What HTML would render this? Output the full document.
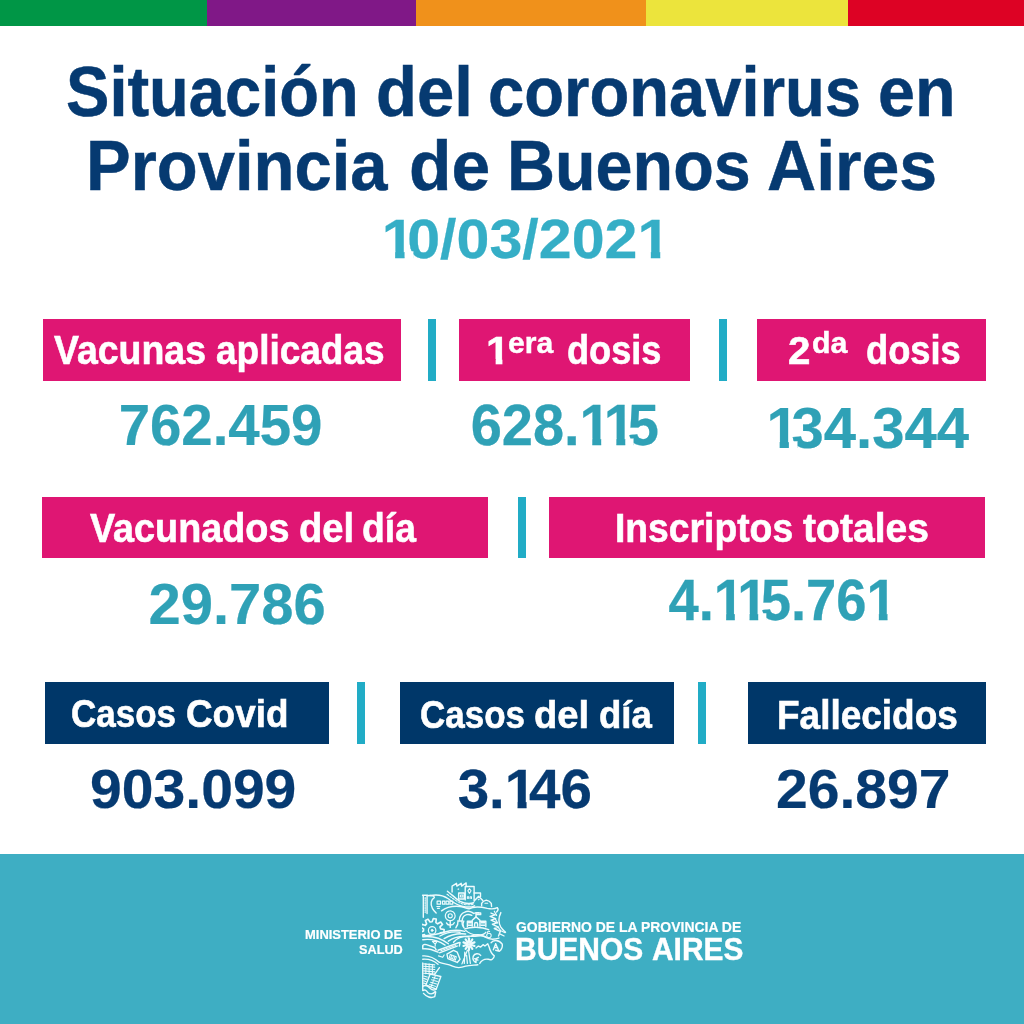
<!DOCTYPE html>
<html lang="es">
<head>
<meta charset="utf-8">
<title>Situación del coronavirus en Provincia de Buenos Aires</title>
<style>
html,body{margin:0;padding:0;background:#fff}
#c{position:relative;width:1024px;height:1024px;overflow:hidden;background:#fff;font-family:"Liberation Sans",sans-serif}
h1,h2,p,header,footer,section,main{margin:0;padding:0;font-size:inherit;font-weight:inherit}
.b{position:absolute;display:block}
.t{position:absolute;white-space:nowrap;line-height:1;font-weight:bold;transform-origin:0 0}
.g1{display:inline-block;font-style:normal;margin-right:-0.126em;clip-path:polygon(0 0,.385em 0,.385em 1em,.226em 1em,.226em .7em,0 .7em)}
</style>
</head>
<body>
<main id="c">
<header><i class="b" style="left:0px;top:0px;width:207.2px;height:25.8px;background:#009646"></i><i class="b" style="left:207.2px;top:0px;width:208.8px;height:25.8px;background:#801887"></i><i class="b" style="left:416px;top:0px;width:229.5px;height:25.8px;background:#F0911B"></i><i class="b" style="left:645.5px;top:0px;width:202.0px;height:25.8px;background:#ECE43C"></i><i class="b" style="left:847.5px;top:0px;width:176.5px;height:25.8px;background:#DD0224"></i></header>
<h1><span class="t" style="left:66.02px;top:57.35px;font-size:70.4px;color:#063A71;-webkit-text-stroke:0.5px #063A71;transform:scaleX(0.9241)">Situación</span> <span class="t" style="left:375.63px;top:57.35px;font-size:70.4px;color:#063A71;-webkit-text-stroke:0.5px #063A71;transform:scaleX(0.9526)">del</span> <span class="t" style="left:488.37px;top:57.35px;font-size:70.4px;color:#063A71;-webkit-text-stroke:0.5px #063A71;transform:scaleX(0.926)">coronavirus</span> <span class="t" style="left:877.73px;top:57.35px;font-size:70.4px;color:#063A71;-webkit-text-stroke:0.5px #063A71;transform:scaleX(0.9443)">en</span> <span class="t" style="left:85.61px;top:131.25px;font-size:70.4px;color:#063A71;-webkit-text-stroke:0.5px #063A71;transform:scaleX(0.9515)">Provincia</span> <span class="t" style="left:408.68px;top:131.25px;font-size:70.4px;color:#063A71;-webkit-text-stroke:0.5px #063A71;transform:scaleX(0.9893)">de</span> <span class="t" style="left:507.14px;top:131.25px;font-size:70.4px;color:#063A71;-webkit-text-stroke:0.5px #063A71;transform:scaleX(0.9443)">Buenos</span> <span class="t" style="left:766.93px;top:131.25px;font-size:70.4px;color:#063A71;-webkit-text-stroke:0.5px #063A71;transform:scaleX(0.9667)">Aires</span></h1>
<p><svg class="b" style="left:373px;top:207px;overflow:visible" width="300" height="69" viewBox="373 207 300 69"><clipPath id="k1"><path clip-rule="evenodd" d="M-20 -61.6H306.1V22.4H-20ZM1.12 -6.38H12.66V1.68H1.12ZM21.56 -6.38H29.96V1.68H21.56ZM243.18 -6.38H254.72V1.68H243.18ZM263.62 -6.38H273.42V1.68H263.62Z"/></clipPath><text transform="translate(381.78 257.75) scale(1.0563 1)" x="0.00 24.08 55.22 70.78 101.93 133.07 148.63 179.78 210.92 242.06" y="0" clip-path="url(#k1)" font-family="Liberation Sans, sans-serif" font-weight="bold" font-size="56.0" fill="#35AEC6" stroke="#35AEC6" stroke-width="0.25">10/03/2021</text></svg></p>
<section><i class="b" style="left:43.25px;top:319.3px;width:357.75px;height:61.3px;background:#DF1673"></i><h2><span class="t" style="left:54.12px;top:330.35px;font-size:40.1px;color:#fff;-webkit-text-stroke:0.6px #fff;transform:scaleX(0.9348)">Vacunas</span> <span class="t" style="left:216.05px;top:330.35px;font-size:40.1px;color:#fff;-webkit-text-stroke:0.6px #fff;transform:scaleX(0.9229)">aplicadas</span></h2><p><svg class="b" style="left:108px;top:393px;overflow:visible" width="225" height="69" viewBox="108 393 225 69"><text transform="translate(118.63 444.90) scale(0.9875 1)" x="0.00 31.76 63.51 95.27 111.13 142.89 174.65" y="0" font-family="Liberation Sans, sans-serif" font-weight="bold" font-size="57.1" fill="#2FA1B6" stroke="#2FA1B6" stroke-width="0.25">762.459</text></svg></p></section>
<i class="b" style="left:428.1px;top:319.3px;width:7.9px;height:61.3px;background:#21ACC6"></i>
<section><i class="b" style="left:459px;top:319.3px;width:231px;height:61.3px;background:#DF1673"></i><h2><span class="t g1" style="left:486.03px;top:331.25px;font-size:39.6px;color:#fff;-webkit-text-stroke:0.6px #fff;transform:scaleX(1.0776)">1</span> <span class="t" style="left:508.02px;top:329.25px;font-size:29.0px;color:#fff;-webkit-text-stroke:0.45px #fff;transform:scaleX(1.0385)">era</span> <span class="t" style="left:567.33px;top:330.35px;font-size:40.1px;color:#fff;-webkit-text-stroke:0.6px #fff;transform:scaleX(0.9017)">dosis</span></h2><p><svg class="b" style="left:460px;top:393px;overflow:visible" width="210" height="69" viewBox="460 393 210 69"><clipPath id="k3"><path clip-rule="evenodd" d="M-20 -62.8H232.0V22.8H-20ZM112.28 -6.51H124.04V1.71H112.28ZM133.12 -6.51H148.59V1.71H133.12ZM157.67 -6.51H166.23V1.71H157.67Z"/></clipPath><text transform="translate(470.64 444.90) scale(0.9807 1)" x="0.00 31.76 63.51 95.27 111.13 135.69 160.24" y="0" clip-path="url(#k3)" font-family="Liberation Sans, sans-serif" font-weight="bold" font-size="57.1" fill="#2FA1B6" stroke="#2FA1B6" stroke-width="0.25">628.115</text></svg></p></section>
<i class="b" style="left:719.4px;top:319.3px;width:8.1px;height:61.3px;background:#21ACC6"></i>
<section><i class="b" style="left:756.5px;top:319.3px;width:229.75px;height:61.3px;background:#DF1673"></i><h2><span class="t" style="left:787.85px;top:331.25px;font-size:39.6px;color:#fff;-webkit-text-stroke:0.6px #fff;transform:scaleX(1.0184)">2</span> <span class="t" style="left:811.56px;top:328.85px;font-size:28.9px;color:#fff;-webkit-text-stroke:0.45px #fff;transform:scaleX(1.0502)">da</span> <span class="t" style="left:866.32px;top:330.35px;font-size:40.1px;color:#fff;-webkit-text-stroke:0.6px #fff;transform:scaleX(0.9056)">dosis</span></h2><p><svg class="b" style="left:758px;top:396px;overflow:visible" width="224" height="70" viewBox="758 396 224 70"><clipPath id="k4"><path clip-rule="evenodd" d="M-20 -63.1H240.2V23.0H-20ZM1.15 -6.54H12.97V1.72H1.15ZM22.10 -6.54H30.71V1.72H22.10Z"/></clipPath><text transform="translate(766.52 447.75) scale(1.0116 1)" x="0.00 24.68 56.61 88.53 104.48 136.40 168.32" y="0" clip-path="url(#k4)" font-family="Liberation Sans, sans-serif" font-weight="bold" font-size="57.4" fill="#2FA1B6" stroke="#2FA1B6" stroke-width="0.25">134.344</text></svg></p></section>
<section><i class="b" style="left:42.25px;top:496.8px;width:445.5px;height:61.2px;background:#DF1673"></i><h2><span class="t" style="left:90.02px;top:507.65px;font-size:40.0px;color:#fff;-webkit-text-stroke:0.6px #fff;transform:scaleX(0.9441)">Vacunados</span> <span class="t" style="left:298.52px;top:507.65px;font-size:40.0px;color:#fff;-webkit-text-stroke:0.6px #fff;transform:scaleX(0.9531)">del</span> <span class="t" style="left:361.89px;top:507.65px;font-size:40.0px;color:#fff;-webkit-text-stroke:0.6px #fff;transform:scaleX(0.9325)">día</span></h2><p><svg class="b" style="left:138px;top:572px;overflow:visible" width="199" height="69" viewBox="138 572 199 69"><text transform="translate(148.43 624.05) scale(1.0150 1)" x="0.00 31.76 63.51 79.38 111.13 142.89" y="0" font-family="Liberation Sans, sans-serif" font-weight="bold" font-size="57.1" fill="#2FA1B6" stroke="#2FA1B6" stroke-width="0.25">29.786</text></svg></p></section>
<i class="b" style="left:518.1px;top:496.8px;width:8.15px;height:61.5px;background:#21ACC6"></i>
<section><i class="b" style="left:549.2px;top:496.8px;width:436.05px;height:61.2px;background:#DF1673"></i><h2><span class="t" style="left:615.38px;top:507.65px;font-size:40.0px;color:#fff;-webkit-text-stroke:0.6px #fff;transform:scaleX(0.9318)">Inscriptos</span> <span class="t" style="left:803.32px;top:507.65px;font-size:40.0px;color:#fff;-webkit-text-stroke:0.6px #fff;transform:scaleX(0.977)">totales</span></h2><p><svg class="b" style="left:657px;top:568px;overflow:visible" width="244" height="69" viewBox="657 568 244 69"><clipPath id="k6"><path clip-rule="evenodd" d="M-20 -62.5H271.2V22.7H-20ZM48.51 -6.48H60.21V1.70H48.51ZM69.24 -6.48H84.63V1.70H69.24ZM93.66 -6.48H102.18V1.70H93.66ZM207.90 -6.48H219.60V1.70H207.90ZM228.64 -6.48H238.58V1.70H228.64Z"/></clipPath><text transform="translate(668.49 619.65) scale(0.9579 1)" x="0.00 31.59 47.37 71.79 96.22 127.81 143.59 175.18 206.77" y="0" clip-path="url(#k6)" font-family="Liberation Sans, sans-serif" font-weight="bold" font-size="56.8" fill="#2FA1B6" stroke="#2FA1B6" stroke-width="0.25">4.115.761</text></svg></p></section>
<section><i class="b" style="left:44.75px;top:682.25px;width:283.75px;height:61.25px;background:#003769"></i><h2><span class="t" style="left:71.12px;top:694.25px;font-size:39.6px;color:#fff;-webkit-text-stroke:0.6px #fff;transform:scaleX(0.8845)">Casos</span> <span class="t" style="left:185.71px;top:694.25px;font-size:39.6px;color:#fff;-webkit-text-stroke:0.6px #fff;transform:scaleX(0.9314)">Covid</span></h2><p><svg class="b" style="left:80px;top:757px;overflow:visible" width="228" height="69" viewBox="80 757 228 69"><text transform="translate(90.12 808.45) scale(1.0134 1)" x="0.00 31.31 62.62 93.93 109.58 140.89 172.20" y="0" font-family="Liberation Sans, sans-serif" font-weight="bold" font-size="56.3" fill="#063A71" stroke="#063A71" stroke-width="0.25">903.099</text></svg></p></section>
<i class="b" style="left:356.9px;top:682.25px;width:8.1px;height:61.25px;background:#21ACC6"></i>
<section><i class="b" style="left:400.25px;top:682.25px;width:273.25px;height:61.25px;background:#003769"></i><h2><span class="t" style="left:420.12px;top:694.55px;font-size:39.6px;color:#fff;-webkit-text-stroke:0.6px #fff;transform:scaleX(0.8845)">Casos</span> <span class="t" style="left:534.37px;top:694.55px;font-size:39.6px;color:#fff;-webkit-text-stroke:0.6px #fff;transform:scaleX(0.9652)">del</span> <span class="t" style="left:598.83px;top:694.55px;font-size:39.6px;color:#fff;-webkit-text-stroke:0.6px #fff;transform:scaleX(0.9244)">día</span></h2><p><svg class="b" style="left:447px;top:757px;overflow:visible" width="157" height="69" viewBox="447 757 157 69"><clipPath id="k8"><path clip-rule="evenodd" d="M-20 -61.9H173.8V22.5H-20ZM48.08 -6.42H59.68V1.69H48.08ZM68.63 -6.42H78.48V1.69H68.63Z"/></clipPath><text transform="translate(457.64 808.45) scale(1.0042 1)" x="0.00 31.31 46.95 71.16 102.47" y="0" clip-path="url(#k8)" font-family="Liberation Sans, sans-serif" font-weight="bold" font-size="56.3" fill="#063A71" stroke="#063A71" stroke-width="0.25">3.146</text></svg></p></section>
<i class="b" style="left:698.1px;top:682.25px;width:8.15px;height:61.25px;background:#21ACC6"></i>
<section><i class="b" style="left:747.5px;top:682.25px;width:238.75px;height:61.25px;background:#003769"></i><h2><span class="t" style="left:776.64px;top:695.85px;font-size:39.9px;color:#fff;-webkit-text-stroke:0.6px #fff;transform:scaleX(0.9269)">Fallecidos</span></h2><p><svg class="b" style="left:765px;top:757px;overflow:visible" width="196" height="69" viewBox="765 757 196 69"><text transform="translate(775.94 808.45) scale(1.0134 1)" x="0.00 31.31 62.62 78.26 109.58 140.89" y="0" font-family="Liberation Sans, sans-serif" font-weight="bold" font-size="56.3" fill="#063A71" stroke="#063A71" stroke-width="0.25">26.897</text></svg></p></section>
<footer><i class="b" style="left:0px;top:854.2px;width:1024px;height:169.8px;background:#3EAEC3"></i>
<p><span class="t" style="left:305.31px;top:928.8px;font-size:12.9px;color:#fff;-webkit-text-stroke:0.2px #fff;transform:scaleX(1.0043)">MINISTERIO DE</span> <span class="t" style="left:358.56px;top:942.9px;font-size:13.0px;color:#fff;-webkit-text-stroke:0.2px #fff;transform:scaleX(0.9776)">SALUD</span></p>
<svg class="b" style="left:416px;top:876px" width="96" height="128" viewBox="0 0 1024 1365.3" stroke="#eefbfd" stroke-linecap="round" stroke-linejoin="round" fill="none"><defs><clipPath id="gc"><rect x="64" y="400" width="400" height="300"/></clipPath></defs><path d="M70 205 L125 205 M78 205 L78 440 M118 205 L118 400" stroke-width="14.9" fill="none"/><path d="M98 230 L98 390" stroke-width="12.2" fill="none" stroke-dasharray="14 12"/><path d="M125 210 C170 205 200 215 195 230 C160 250 150 300 175 345 C185 365 200 380 215 395" stroke-width="14.9" fill="none"/><path d="M335 162 C380 195 420 240 470 270 C520 295 570 300 615 285" stroke-width="14.9" fill="none"/><path d="M150 208 C220 195 290 205 340 240 C390 275 430 310 500 325 C550 335 600 330 625 318" stroke-width="14.9" fill="none"/><path d="M330 195 C390 235 430 275 500 300 C540 310 580 310 610 302" stroke-width="10.8" fill="none" stroke-dasharray="22 14"/><path d="M385 170 L385 108 L432 78 L436 108 L482 78 L486 108 L535 74 L535 112" stroke-width="14.9" fill="none"/><path d="M525 255 L525 112 L620 112 L620 270" stroke-width="14.9" fill="none"/><path d="M455 245 L455 182 L515 182 L515 245 Z" stroke-width="14.9" fill="none"/><path d="M475 202 L500 202 L500 225 L475 225 Z" stroke-width="10.8" fill="none"/><path d="M570 135 L588 158 L570 185 L552 158 Z" stroke-width="10.8" fill="none"/><path d="M548 240 L548 222 L562 222 L562 240 M578 240 L578 222 L592 222 L592 240" stroke-width="10.8" fill="none"/><path d="M620 182 L688 182 L688 220" stroke-width="14.9" fill="none"/><path d="M625 262 L668 215 L712 262" stroke-width="14.9" fill="none"/><circle cx="668" cy="252" r="5" stroke-width="6" fill="#fff"/><circle cx="450" cy="140" r="5" stroke-width="6" fill="#fff"/><path d="M700 318 L700 292 C715 268 735 262 750 258 C770 262 790 272 803 292 L806 325" stroke-width="14.9" fill="none"/><path d="M735 290 L765 290" stroke-width="10.8" fill="none"/><path d="M225 300 L225 268 L262 268 L262 300 Z" stroke-width="12.2" fill="none"/><path d="M282 300 L282 268 L308 268 L308 300 Z" stroke-width="12.2" fill="none"/><path d="M320 300 L320 268 L350 268 L350 300 Z" stroke-width="12.2" fill="none"/><path d="M362 300 L362 268 L392 268 L392 300 Z" stroke-width="12.2" fill="none"/><path d="M222 325 L255 325 M228 345 L250 345" stroke-width="12.2" fill="none"/><path d="M272 372 C320 335 400 318 470 325 C520 332 545 350 565 350 C610 325 690 328 760 345 C810 355 845 350 868 338" stroke-width="14.9" fill="none"/><path d="M868 338 C880 350 872 372 860 385" stroke-width="14.9" fill="none"/><path d="M905 390 C880 440 880 500 905 545 C920 570 940 585 955 600" stroke-width="14.9" fill="none"/><path d="M800 395 L845 415 L790 430 L850 455 L800 470 L865 500 L815 515 L880 545 L835 560 L900 590 L880 640" stroke-width="14.9" fill="none"/><path d="M835 375 L860 420 M845 455 L870 500 M875 545 L905 585 M905 585 L950 605 M900 620 L940 640" stroke-width="12.2" fill="none"/><circle cx="365" cy="425" r="52" stroke-width="13" fill="none" stroke-dasharray="9 7"/><circle cx="365" cy="425" r="22" stroke-width="12" fill="none"/><path d="M365 480 L365 548 M325 500 C335 520 350 525 365 522 C385 525 400 515 408 498" stroke-width="14.9" fill="none"/><path d="M445 480 L492 480 M448 480 C450 510 440 535 425 552 M490 480 C488 510 498 535 512 552" stroke-width="14.9" fill="none"/><path d="M462 470 C465 430 480 400 520 385 C560 365 600 385 615 400 C630 392 650 388 668 392" stroke-width="14.9" fill="none"/><path d="M492 478 C495 440 510 420 540 412 C560 408 580 412 595 420" stroke-width="14.9" fill="none"/><path d="M505 540 C500 515 502 495 510 480" stroke-width="14.9" fill="none"/><path d="M600 535 L600 472 L640 436 L682 472 L682 535" stroke-width="14.9" fill="none"/><path d="M640 436 L640 395 L690 395 L690 412 L640 412" stroke-width="14.9" fill="none"/><path d="M625 535 L625 512 C625 490 657 490 657 512 L657 535" stroke-width="14.9" fill="none"/><path d="M600 482 L548 482 L548 542 M682 482 L745 482 L745 542" stroke-width="14.9" fill="none"/><path d="M558 497 L592 497 M558 512 L592 512 M558 527 L592 527 M692 497 L735 497 M692 512 L735 512 M692 527 L735 527" stroke-width="10.8" fill="none"/><path d="M520 565 C580 540 700 540 775 572" stroke-width="14.9" fill="none"/><path d="M530 580 C560 610 600 625 650 630 C700 632 730 625 745 600" stroke-width="14.9" fill="none"/><circle cx="778" cy="635" r="24" stroke-width="11" fill="none"/><path d="M760 605 C765 590 775 585 785 592" stroke-width="12.2" fill="none"/><path clip-path="url(#gc)" d="M92 626 L55 632 L46 602 L80 586 L81 564 L49 545 L61 516 L98 526 L113 510 L100 474 L128 460 L150 491 L172 488 L185 453 L216 460 L212 497 L231 510 L264 491 L283 516 L256 543 L263 564 L300 571 L298 602 L260 605" stroke-width="17.6" fill="none"/><circle cx="172" cy="580" r="40" stroke-width="13" fill="none"/><circle cx="172" cy="580" r="11" stroke-width="8" fill="#fff"/><path d="M72 640 C150 632 230 625 300 600 C360 580 430 570 520 590" stroke-width="14.9" fill="none"/><path d="M255 640 C320 605 400 590 470 600" stroke-width="14.9" fill="none"/><path d="M300 668 C360 630 440 610 530 618" stroke-width="14.9" fill="none"/><path d="M345 695 C400 655 480 640 560 648" stroke-width="14.9" fill="none"/><path d="M72 647.3 C160 637.3 260 657.3 345 722.3" stroke-width="14.9" fill="none"/><path d="M72 679.3 C150 669.3 240 687.3 310 737.3" stroke-width="14.9" fill="none"/><path d="M400 707.3 C440 657.3 520 637.3 590 642.3 C650 647.3 700 627.3 740 647.3" stroke-width="14.9" fill="none"/><path d="M590 642.3 C630 617.3 700 622.3 740 652.3 C780 677.3 840 677.3 885 662.3" stroke-width="14.9" fill="none"/><path d="M175 697.3 L225 697.3 L205 727.3 Z M205 727.3 L205 747.3" stroke-width="12.2" fill="none"/><path d="M72 747.3 C72 732.3 90 727.3 110 732.3 L200 762.3 L215 787.3" stroke-width="14.9" fill="none"/><path d="M72 777.3 L72 747.3 M72 777.3 C110 772.3 170 782.3 235 812.3" stroke-width="14.9" fill="none"/><path d="M235 792.3 L455 712.3 L470 709.3 L462 747.3 M250 819.3 L440 747.3" stroke-width="14.9" fill="none"/><path d="M265 797.3 L430 737.3" stroke-width="10.8" fill="none" stroke-dasharray="10 10"/><path d="M240 852.3 L285 867.3 L300 842.3" stroke-width="12.2" fill="none"/><path d="M330 832.3 L400 792.3 L440 812.3 L470 887.3 L440 922.3 L340 882.3 Z" stroke-width="14.9" fill="none"/><path d="M365 837.3 L430 862.3 L420 897.3 L355 872.3 Z M380 847.3 L372 877.3 M398 853.3 L390 885.3 M414 859.3 L406 891.3" stroke-width="10.8" fill="none"/><path d="M586 734 L624 746" stroke-width="23.0" fill="none"/><path d="M578 745 L601 777" stroke-width="23.0" fill="none"/><path d="M565 749 L565 789" stroke-width="23.0" fill="none"/><path d="M552 745 L529 777" stroke-width="23.0" fill="none"/><path d="M544 734 L506 746" stroke-width="23.0" fill="none"/><path d="M544 721 L506 708" stroke-width="23.0" fill="none"/><path d="M552 710 L529 677" stroke-width="23.0" fill="none"/><path d="M565 705 L565 665" stroke-width="23.0" fill="none"/><path d="M578 710 L601 677" stroke-width="23.0" fill="none"/><path d="M586 721 L624 708" stroke-width="23.0" fill="none"/><circle cx="565" cy="727.3" r="10" stroke-width="8" fill="#fff"/><path d="M548 792.3 L490 937.3 M560 792.3 L580 932.3 M520 812.3 L515 932.3 M540 847.3 L548 932.3" stroke-width="13.5" fill="none"/><path d="M640 767.3 L665 747.3 L690 757.3 L715 732.3 L735 747.3 L765 722.3 L780 757.3 C790 797.3 810 832.3 835 852.3 C830 887.3 800 902.3 770 887.3 C730 882.3 700 897.3 680 932.3" stroke-width="14.9" fill="none"/><path d="M690 847.3 C670 822.3 625 822.3 610 857.3 C600 892.3 620 917.3 640 922.3 M640 922.3 L640 882.3 L665 867.3 M625 882.3 L660 897.3" stroke-width="14.9" fill="none"/><path d="M800 712.3 C820 682.3 880 672.3 920 727.3 C925 757.3 910 787.3 890 802.3 L850 792.3 M850 722.3 L825 787.3 M850 722.3 L880 792.3 M835 762.3 L870 762.3" stroke-width="14.9" fill="none"/><path d="M72 852.3 C130 847.3 200 877.3 250 922.3 C300 942.3 340 932.3 390 962.3 C440 987.3 490 977.3 530 962.3 C570 947.3 620 952.3 660 947.3" stroke-width="14.9" fill="none"/><path d="M72 887.3 C130 882.3 190 902.3 235 942.3" stroke-width="14.9" fill="none"/><path d="M72 927.3 L72 1217.3" stroke-width="14.9" fill="none"/><path d="M82 937.3 L200 947.3" stroke-width="12.2" fill="none"/><path d="M82 962.3 L200 972.3" stroke-width="12.2" fill="none"/><path d="M82 987.3 L200 997.3" stroke-width="12.2" fill="none"/><path d="M82 1012.3 L200 1022.3" stroke-width="12.2" fill="none"/><path d="M82 1037.3 L200 1047.3" stroke-width="12.2" fill="none"/><path d="M105 932.3 L105 1042.3 M140 937.3 L140 1047.3 M175 942.3 L175 1047.3" stroke-width="10.8" fill="none"/><path d="M250 977.3 L200 1047.3" stroke-width="14.9" fill="none"/><path d="M150 1047.3 L265 1072.3 L215 1207.3 L105 1162.3 Z" stroke-width="14.9" fill="none"/><path d="M175 1082.3 L235 1097.3 M165 1107.3 L228 1125.3 M155 1132.3 L220 1152.3 M145 1157.3 L210 1177.3 M205 1067.3 L160 1182.3" stroke-width="10.8" fill="none"/><path d="M82 1067.3 L120 1077.3 M82 1092.3 L112 1102.3 M82 1117.3 L105 1125.3 M82 1142.3 L100 1147.3" stroke-width="12.2" fill="none"/><path d="M72 1177.3 C100 1157.3 130 1177.3 150 1197.3 C170 1217.3 195 1222.3 215 1207.3" stroke-width="14.9" fill="none"/><path d="M72 1222.3 C90 1207.3 110 1217.3 125 1242.3 C150 1262.3 180 1262.3 205 1232.3 M80 1252.3 C110 1287.3 160 1307.3 200 1287.3 L210 1237.3" stroke-width="14.9" fill="none"/></svg>
<p><span class="t" style="left:515.98px;top:920.4px;font-size:14.9px;color:#fff;-webkit-text-stroke:0.2px #fff;transform:scaleX(0.9365)">GOBIERNO DE LA PROVINCIA DE</span> <span class="t" style="left:515.19px;top:934.25px;font-size:30.6px;color:#fff;-webkit-text-stroke:0.4px #fff;transform:scaleX(0.9809)">BUENOS</span> <span class="t" style="left:651.57px;top:934.25px;font-size:30.6px;color:#fff;-webkit-text-stroke:0.4px #fff;transform:scaleX(0.977)">AIRES</span></p>
</footer>
</main>
</body>
</html>
